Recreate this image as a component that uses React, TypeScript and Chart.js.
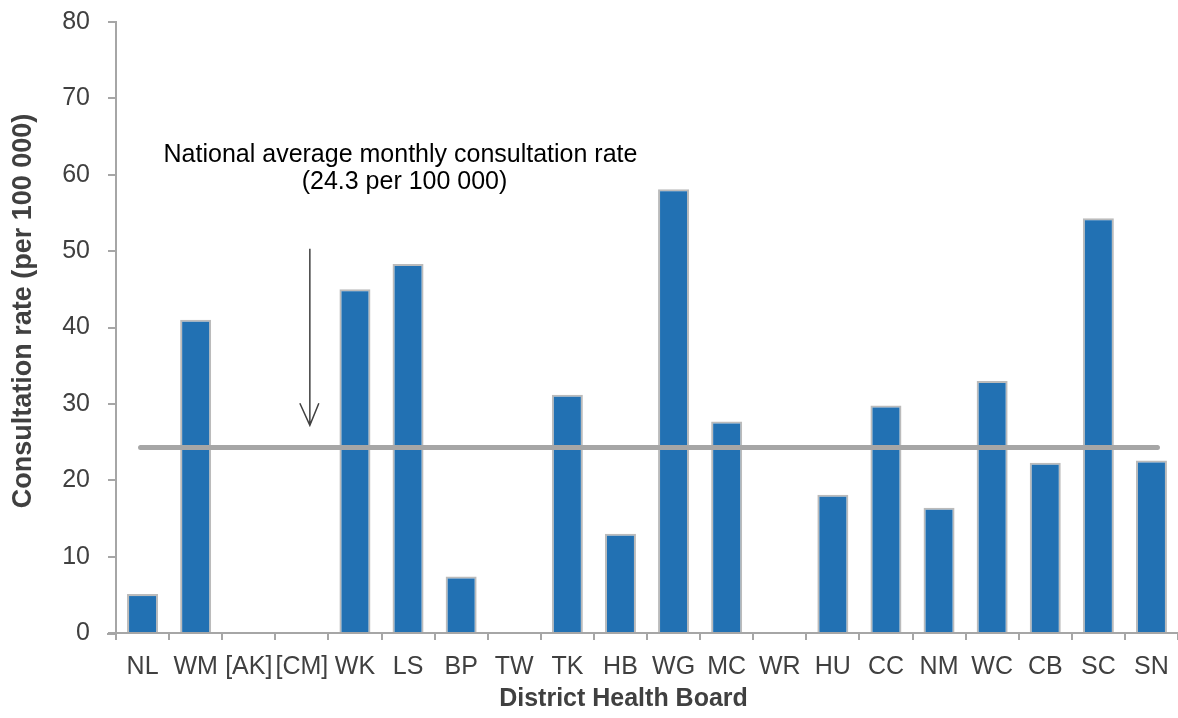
import React, { useEffect, useRef } from "react";
import { Chart, registerables } from "chart.js";

Chart.register(...registerables);

const categories = ["NL", "WM", "[AK]", "[CM]", "WK", "LS", "BP", "TW", "TK", "HB", "WG", "MC", "WR", "HU", "CC", "NM", "WC", "CB", "SC", "SN"];
const rates = [5.1, 41.0, 0, 0, 45.0, 48.3, 7.4, 0, 31.2, 13.0, 58.1, 27.7, 0, 18.1, 29.8, 16.4, 33.0, 22.3, 54.3, 22.6];
const nationalAverage = 24.3;
const annotationLines = ["National average monthly consultation rate", "(24.3 per 100 000)"];
const xTitle = "District Health Board";
const yTitle = "Consultation rate (per 100 000)";

const FONT = "'Liberation Sans', Arial, sans-serif";

const avgPlugin = {
  id: "avgLine",
  afterDatasetsDraw(chart: any) {
    const { ctx, scales, chartArea } = chart;
    const x = scales.x;
    const y = scales.y;
    const yAvg = y.getPixelForValue(nationalAverage);
    ctx.save();

    // small extension of the x axis line to the left of the y axis
    ctx.strokeStyle = "#A6A6A6";
    ctx.lineWidth = 2;
    ctx.beginPath();
    ctx.moveTo(chartArea.left - 9, chartArea.bottom + 1);
    ctx.lineTo(chartArea.left, chartArea.bottom + 1);
    ctx.stroke();

    ctx.lineWidth = 5;
    ctx.lineCap = "round";
    ctx.beginPath();
    ctx.moveTo(x.getPixelForValue(0) - 2, yAvg);
    ctx.lineTo(x.getPixelForValue(categories.length - 1) + 6, yAvg);
    ctx.stroke();

    // arrow
    const ax = x.getPixelForValue(3) + 8;
    const aTop = y.getPixelForValue(50.3);
    const aTip = y.getPixelForValue(27.2);
    ctx.strokeStyle = "#404040";
    ctx.lineWidth = 1.5;
    ctx.lineCap = "butt";
    ctx.beginPath();
    ctx.moveTo(ax, aTop);
    ctx.lineTo(ax, aTip);
    ctx.moveTo(ax - 10, aTip - 22);
    ctx.lineTo(ax, aTip);
    ctx.lineTo(ax + 9, aTip - 22);
    ctx.stroke();

    // annotation text
    ctx.fillStyle = "#000000";
    ctx.font = `25px ${FONT}`;
    ctx.textAlign = "center";
    ctx.textBaseline = "middle";
    const tx = (x.getPixelForValue(4) + x.getPixelForValue(5)) / 2 + 19;
    ctx.fillText(annotationLines[0], tx, y.getPixelForValue(62.6));
    ctx.fillText(annotationLines[1], tx + 4, y.getPixelForValue(59.1));

    // axis titles
    ctx.fillStyle = "#404040";
    ctx.font = `bold 25px ${FONT}`;
    ctx.fillText(xTitle, 623.5, 699);
    ctx.translate(24, 311);
    ctx.rotate(-Math.PI / 2);
    ctx.font = `bold 27px ${FONT}`;
    ctx.fillText(yTitle, 0, 0);
    ctx.restore();
  },
};

export default function App() {
  const ref = useRef<HTMLCanvasElement | null>(null);
  useEffect(() => {
    if (!ref.current) return;
    const chart = new Chart(ref.current, {
      type: "bar",
      data: {
        labels: categories,
        datasets: [
          {
            data: rates,
            backgroundColor: "#2271B3",
            borderColor: "#BBBBBB",
            borderWidth: 2,
            barPercentage: 0.584,
            categoryPercentage: 1,
          },
        ],
      },
      options: {
        responsive: false,
        animation: false,
        layout: { padding: { top: 22, right: 0, left: 0, bottom: 0 } },
        plugins: { legend: { display: false }, tooltip: { enabled: false } },
        scales: {
          x: {
            type: "category",
            grid: {
              display: true,
              drawOnChartArea: false,
              drawTicks: true,
              tickLength: 7,
              color: "#A6A6A6",
              lineWidth: 2,
              offset: true,
            },
            border: { display: true, color: "#A6A6A6", width: 2 },
            ticks: { font: { family: FONT, size: 25 }, color: "#404040", padding: 12, maxRotation: 0, autoSkip: false },
            title: { display: false },
            afterFit: (s: any) => {
              s.height = 85;
              s.paddingLeft = 0;
              s.paddingRight = 0;
            },
          },
          y: {
            min: 0,
            max: 80,
            ticks: { stepSize: 10, font: { family: FONT, size: 25 }, color: "#404040", padding: 18 },
            grid: {
              display: true,
              drawOnChartArea: false,
              drawTicks: true,
              tickLength: 8,
              color: "#A6A6A6",
              lineWidth: 2,
            },
            border: { display: true, color: "#A6A6A6", width: 2 },
            title: { display: false },
            afterFit: (s: any) => {
              s.width = 116;
              s.paddingTop = 0;
              s.paddingBottom = 0;
            },
          },
        },
      },
      plugins: [avgPlugin],
    });
    return () => chart.destroy();
  }, []);
  return (
    <canvas
      ref={ref}
      width={1178}
      height={718}
      style={{ position: "fixed", left: 0, top: 0, display: "block" }}
    />
  );
}
